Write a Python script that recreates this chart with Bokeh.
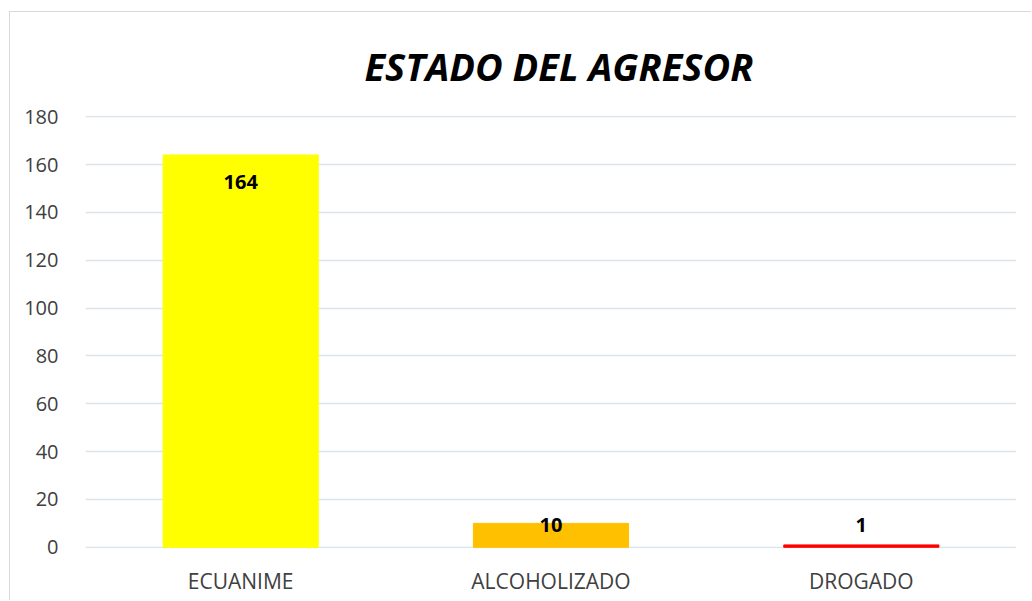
from bokeh.plotting import figure
from bokeh.models import ColumnDataSource, FixedTicker, Range1d
from bokeh.core.properties import value
from bokeh.embed import file_html
from bokeh.resources import INLINE

categories = ["ECUANIME", "ALCOHOLIZADO", "DROGADO"]
counts = [164, 10, 1]
colors = ["#FFFF00", "#FFC000", "#FF0000"]
y_ticks = [0, 20, 40, 60, 80, 100, 120, 140, 160, 180]
title_text = "ESTADO DEL AGRESOR"

label_y = [max(v - 11.5, 9.4) for v in counts]
label_txt = [str(v) for v in counts]

src = ColumnDataSource(dict(cat=categories, val=counts, col=colors,
                            ly=label_y, lt=label_txt))

p = figure(x_range=categories, y_range=Range1d(-0.5, 180.5),
           width=1022, height=589,
           output_backend="svg", toolbar_location=None,
           min_border_left=75, min_border_right=16, min_border_top=103,
           min_border_bottom=53, title=title_text)
p.styles = {"margin-left": "9px", "margin-top": "11px",
            "border-left": "1px solid #D9D9D9",
            "border-top": "1px solid #D9D9D9"}
p.vbar(x="cat", top="val", width=0.5, color="col", source=src)
p.text(x="cat", y="ly", text="lt", source=src, text_align="center",
       text_baseline="middle", text_font=value("Open Sans"),
       text_font_style="bold", text_font_size="20px", text_color="#000000")

p.title.align = "left"
p.title.text_font = "Open Sans"
p.title.text_font_style = "bold italic"
p.title.text_font_size = "38px"
p.title.text_color = "#000000"
p.title.offset = 279
p.title.standoff = 47

p.outline_line_color = None
p.xgrid.grid_line_color = None
p.ygrid.grid_line_color = "#DDE3EA"
p.ygrid.grid_line_width = 1.5
p.yaxis.ticker = FixedTicker(ticks=y_ticks)
for ax in (p.xaxis, p.yaxis):
    ax.axis_line_color = None
    ax.major_tick_line_color = None
    ax.minor_tick_line_color = None
    ax.major_label_text_font = "Open Sans"
    ax.major_label_text_color = "#404040"
p.xaxis.major_label_text_font_size = "21px"
p.yaxis.major_label_text_font_size = "20px"
p.xaxis.major_label_standoff = 12
p.yaxis.major_label_standoff = 21
p.x_range.range_padding = 0

open("out.html", "w").write(file_html(p, INLINE))
